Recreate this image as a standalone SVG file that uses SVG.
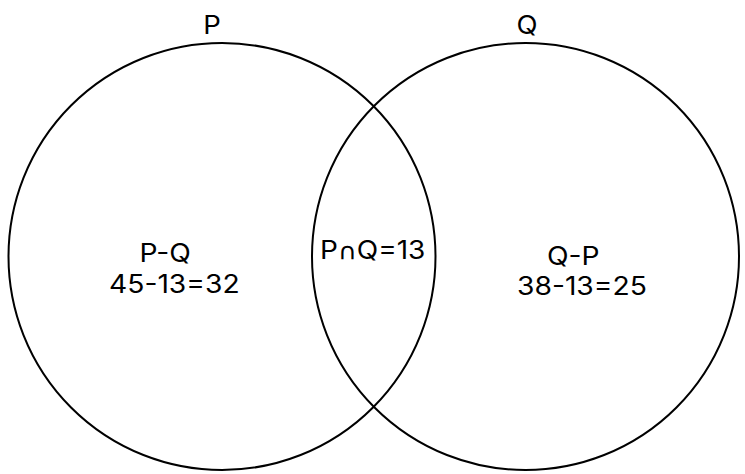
<svg xmlns="http://www.w3.org/2000/svg" width="745" height="474" viewBox="0 0 745 474">
<style>
.c{fill:none;stroke:#000;stroke-width:2}
.t{font-family:Inter,"Liberation Sans",sans-serif;font-size:25px;fill:#000}
.sym{font-family:"DejaVu Sans",sans-serif;font-size:23px}
</style>
<rect width="745" height="474" fill="#fff"/>
<g id="setP">
<circle class="c" cx="222" cy="256.5" r="213.5"/>
<text class="t" transform="translate(212,33.5) scale(1.1,1)" text-anchor="middle">P</text>
<text class="t" transform="translate(139.5,261.5) scale(1.13,1)">P-Q</text>
<text class="t" transform="translate(109,292.5) scale(1.13,1)">45-13=32</text>
</g>
<g id="setQ">
<circle class="c" cx="525.5" cy="256.5" r="213.5"/>
<text class="t" transform="translate(527,33.5) scale(1.1,1)" text-anchor="middle">Q</text>
<text class="t" transform="translate(547,265) scale(1.13,1)">Q-P</text>
<text class="t" transform="translate(517,294.5) scale(1.13,1)">38-13=25</text>
</g>
<g id="intersection">
<text class="t" transform="translate(320,259) scale(1.12,1)">P<tspan class="sym">∩</tspan>Q=13</text>
</g>
</svg>
